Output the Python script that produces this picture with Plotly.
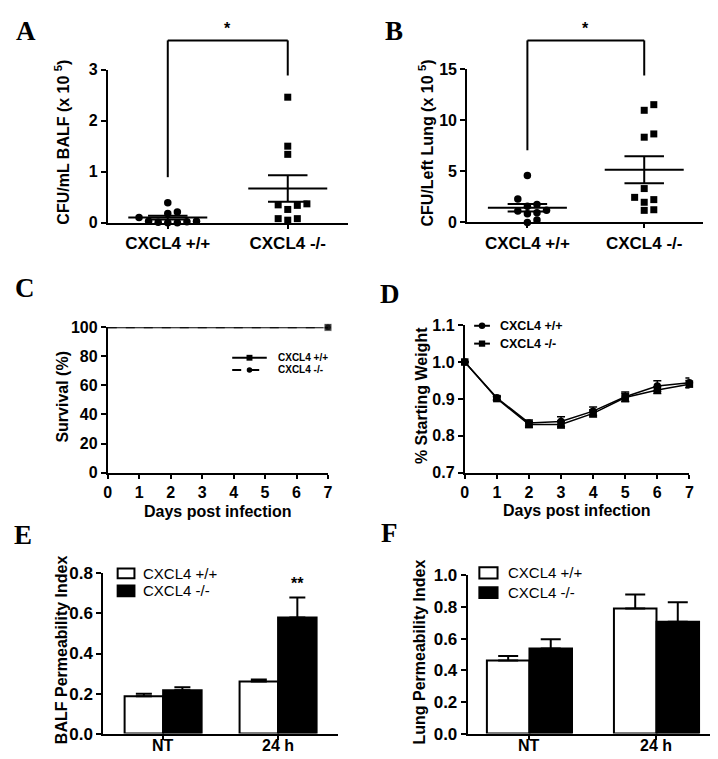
import plotly.graph_objects as go

W, H = 718, 759
SANS = "Liberation Sans, Arial, Helvetica, sans-serif"
SERIF = "Liberation Serif, Times New Roman, serif"

# ---------------- data ----------------
groups = ["CXCL4 +/+", "CXCL4 -/-"]

# A: CFU/mL BALF (x 10^5)
balf_wt = [0.10, 0.03, 0.00, 0.00, 0.39, 0.21, 0.02, 0.01, 0.03, 0.18]
balf_ko = [2.46, 1.50, 1.34, 0.37, 0.35, 0.26, 0.34, 0.08, 0.05, 0.08]
balf_mean = [0.10, 0.67]
balf_sem = [0.035, 0.26]

# B: CFU/Left Lung (x 10^5)
lung_wt = [4.58, 2.29, 1.59, 1.75, 1.18, 0.86, 0.95, 1.12, 0.00, 0.23]
lung_ko = [11.51, 10.96, 8.65, 8.33, 3.31, 2.23, 2.45, 1.97, 1.18, 1.24]
lung_mean = [1.43, 5.15]
lung_sem = [0.37, 1.32]

# C: survival
surv_days = [0, 7]
surv_wt = [100, 100]
surv_ko = [100, 100]

# D: weight
days = [0, 1, 2, 3, 4, 5, 6, 7]
weight_wt = [1.000, 0.903, 0.835, 0.839, 0.867, 0.906, 0.935, 0.944]
weight_wt_err = [0.0, 0.005, 0.008, 0.013, 0.011, 0.013, 0.014, 0.013]
weight_ko = [1.000, 0.901, 0.831, 0.831, 0.861, 0.904, 0.924, 0.940]
weight_ko_err = [0.0, 0.005, 0.008, 0.010, 0.010, 0.011, 0.009, 0.010]

# E / F: permeability
perm_groups = ["NT", "24 h"]
balf_perm_wt = [0.186, 0.260]
balf_perm_wt_err = [0.013, 0.010]
balf_perm_ko = [0.216, 0.580]
balf_perm_ko_err = [0.016, 0.100]
lung_perm_wt = [0.462, 0.790]
lung_perm_wt_err = [0.028, 0.089]
lung_perm_ko = [0.538, 0.707]
lung_perm_ko_err = [0.058, 0.123]

# ---------------- geometry (pixels) ----------------
P = {
    "A": dict(x0=97, x1=340, xr=[-0.5, 1.5], yb=211, yt=54, yr=[0, 3]),
    "B": dict(x0=461, x1=700, xr=[-0.515, 1.505], yb=210.7, yt=53.3, yr=[0, 15]),
    "C": dict(x0=97, x1=320, xr=[0, 7], yb=467.3, yt=318.3, yr=[0, 100]),
    "D": dict(x0=458.5, x1=686, xr=[0, 7], yb=467.5, yt=316, yr=[0.7, 1.1]),
    "E": dict(x0=92.5, x1=330, xr=[-0.52, 1.52], yb=735, yt=570.7, yr=[0, 0.8]),
    "F": dict(x0=461.5, x1=717, xr=[-0.486, 1.5], yb=735, yt=572.7, yr=[0, 1.0]),
}
ORDER = ["A", "B", "C", "D", "E", "F"]


def pxx(v):
    return v / W


def pyy(v):
    return 1 - v / H


def dx2px(k, v):
    g = P[k]
    return g["x0"] + (v - g["xr"][0]) / (g["xr"][1] - g["xr"][0]) * (g["x1"] - g["x0"])


def dy2px(k, v):
    g = P[k]
    return g["yb"] - (v - g["yr"][0]) / (g["yr"][1] - g["yr"][0]) * (g["yb"] - g["yt"])


def ppu_x(k):
    g = P[k]
    return (g["x1"] - g["x0"]) / (g["xr"][1] - g["xr"][0])


def swarm(k, values, center, step=9.7, thresh=7.5):
    ys = [dy2px(k, v) for v in values]
    order = sorted(range(len(values)), key=lambda i: values[i])
    placed = []
    offs = [0.0] * len(values)
    cands = [0]
    for j in range(1, 12):
        cands += [j, -j]
    for i in order:
        for c in cands:
            dx = c * step
            ok = True
            for (pdx, pyv) in placed:
                if abs(ys[i] - pyv) < thresh and abs(dx - pdx) < step * 0.95:
                    ok = False
                    break
            if ok:
                offs[i] = dx
                placed.append((dx, ys[i]))
                break
    return [center + o / ppu_x(k) for o in offs]


fig = go.Figure()

TICKFONT = dict(family=SANS, size=16, color="black", weight="bold")
axis_base = dict(showline=True, linecolor="black", linewidth=2, ticks="outside",
                 ticklen=5, tickwidth=2, tickcolor="black", showgrid=False,
                 zeroline=False, fixedrange=True, tickfont=TICKFONT)

layout_axes = {}
for idx, k in enumerate(ORDER):
    g = P[k]
    n = "" if idx == 0 else str(idx + 1)
    xa = dict(axis_base, domain=[pxx(g["x0"]), pxx(g["x1"])], range=g["xr"], anchor="y" + n)
    ya = dict(axis_base, domain=[pyy(g["yb"]), pyy(g["yt"])], range=g["yr"], anchor="x" + n)
    layout_axes["xaxis" + n] = xa
    layout_axes["yaxis" + n] = ya

# A/B categorical-style x axes
for n in ["", "2"]:
    layout_axes["xaxis" + n].update(tickvals=[0, 1], ticktext=groups, ticklen=4,
                                    tickfont=dict(family=SANS, size=17, color="black", weight="bold"))
layout_axes["yaxis"].update(tickvals=[0, 1, 2, 3])
layout_axes["yaxis2"].update(tickvals=[0, 5, 10, 15])
layout_axes["xaxis3"].update(tickvals=days, ticklen=4)
layout_axes["yaxis3"].update(tickvals=[0, 20, 40, 60, 80, 100])
layout_axes["xaxis4"].update(tickvals=days, ticklen=4)
layout_axes["yaxis4"].update(tickvals=[0.7, 0.8, 0.9, 1.0, 1.1], tickformat=".1f")
for n, vals in [("5", [0, 0.2, 0.4, 0.6, 0.8]), ("6", [0, 0.2, 0.4, 0.6, 0.8, 1.0])]:
    layout_axes["xaxis" + n].update(tickvals=[0, 1], ticklen=4, showticklabels=False)
    layout_axes["yaxis" + n].update(tickvals=vals, tickformat=".1f",
                                    tickfont=dict(family=SANS, size=17, color="black", weight="bold"))

# ---------------- A & B: scatter dot plots ----------------
for k, xa, ya, wt, ko, mean, sem in [("A", "x", "y", balf_wt, balf_ko, balf_mean, balf_sem),
                                     ("B", "x2", "y2", lung_wt, lung_ko, lung_mean, lung_sem)]:
    fig.add_trace(go.Scatter(x=swarm(k, wt, 0), y=wt, mode="markers", xaxis=xa, yaxis=ya,
                             marker=dict(symbol="circle", size=7.5, color="black"),
                             cliponaxis=False, showlegend=False))
    fig.add_trace(go.Scatter(x=swarm(k, ko, 1), y=ko, mode="markers", xaxis=xa, yaxis=ya,
                             marker=dict(symbol="square", size=7, color="black"),
                             cliponaxis=False, showlegend=False))
    hm = 40 / ppu_x(k)
    hs = 20 / ppu_x(k)
    lx, ly = [], []
    for c in range(2):
        m, s = mean[c], sem[c]
        lx += [c - hm, c + hm, None, c - hs, c + hs, None, c - hs, c + hs, None, c, c, None]
        ly += [m, m, None, m + s, m + s, None, m - s, m - s, None, m - s, m + s, None]
    fig.add_trace(go.Scatter(x=lx, y=ly, mode="lines", xaxis=xa, yaxis=ya,
                             line=dict(color="black", width=2), cliponaxis=False, showlegend=False))

# ---------------- C: survival ----------------
fig.add_trace(go.Scatter(x=surv_days, y=surv_ko, mode="lines+markers", xaxis="x3", yaxis="y3",
                         line=dict(color="black", width=2, dash="dash", shape="hv"),
                         marker=dict(symbol="circle", size=[0, 7], color="black"),
                         cliponaxis=False, showlegend=False))
fig.add_trace(go.Scatter(x=surv_days, y=surv_wt, mode="lines+markers", xaxis="x3", yaxis="y3",
                         line=dict(color="black", width=2, shape="hv"),
                         marker=dict(symbol="square", size=[0, 8], color="black"),
                         cliponaxis=False, showlegend=False))

# ---------------- D: weight ----------------
for yv, ev, sym in [(weight_wt, weight_wt_err, "circle"), (weight_ko, weight_ko_err, "square")]:
    fig.add_trace(go.Scatter(x=days, y=yv, mode="lines+markers", xaxis="x4", yaxis="y4",
                             line=dict(color="black", width=1.5),
                             marker=dict(symbol=sym, size=7.5, color="black"),
                             error_y=dict(type="data", array=ev, color="black", thickness=1.5, width=4),
                             cliponaxis=False, showlegend=False))

# ---------------- E & F: bars ----------------
for xa, ya, wt, wte, ko, koe, cw in [("x5", "y5", balf_perm_wt, balf_perm_wt_err, balf_perm_ko, balf_perm_ko_err, 8),
                                     ("x6", "y6", lung_perm_wt, lung_perm_wt_err, lung_perm_ko, lung_perm_ko_err, 10)]:
    fig.add_trace(go.Bar(x=[0, 1], y=wt, xaxis=xa, yaxis=ya, offsetgroup="wt",
                         marker=dict(color="white", line=dict(color="black", width=2)),
                         error_y=dict(type="data", array=wte, arrayminus=[0, 0], symmetric=False,
                                      color="black", thickness=2, width=cw),
                         showlegend=False))
    fig.add_trace(go.Bar(x=[0, 1], y=ko, xaxis=xa, yaxis=ya, offsetgroup="ko",
                         marker=dict(color="black", line=dict(color="black", width=2)),
                         error_y=dict(type="data", array=koe, arrayminus=[0, 0], symmetric=False,
                                      color="black", thickness=2, width=cw),
                         showlegend=False))

# ---------------- shapes & annotations ----------------
shapes = []
ann = []


def line_px(x0, y0, x1, y1, width=2, dash=None):
    d = dict(type="line", xref="paper", yref="paper", x0=pxx(x0), y0=pyy(y0), x1=pxx(x1), y1=pyy(y1),
             line=dict(color="black", width=width))
    if dash:
        d["line"]["dash"] = dash
    shapes.append(d)


def rect_px(x0, y0, x1, y1, fill, width=2):
    shapes.append(dict(type="rect", xref="paper", yref="paper", x0=pxx(x0), y0=pyy(y0), x1=pxx(x1), y1=pyy(y1),
                       line=dict(color="black", width=width), fillcolor=fill))


def circ_px(cx, cy, r):
    shapes.append(dict(type="circle", xref="paper", yref="paper", x0=pxx(cx - r), y0=pyy(cy - r),
                       x1=pxx(cx + r), y1=pyy(cy + r), line=dict(color="black", width=0), fillcolor="black"))


def text_px(x, y, s, size, bold=True, family=SANS, xanchor="center", angle=0):
    ann.append(dict(xref="paper", yref="paper", x=pxx(x), y=pyy(y), text=s, showarrow=False,
                    xanchor=xanchor, yanchor="middle", textangle=angle, borderpad=0,
                    font=dict(family=family, size=size, color="black", weight="bold" if bold else "normal")))


# significance brackets
for k, left_bottom, right_bottom, star_y in [("A", 164.3, 60, 12), ("B", 136.7, 60, 12)]:
    xl, xr = dx2px(k, 0), dx2px(k, 1)
    line_px(xl, left_bottom, xl, 24)
    line_px(xl, 24, xr, 24)
    line_px(xr, 24, xr, right_bottom)
    text_px((xl + xr) / 2, star_y, "*", 16)

# E significance
text_px(dx2px("E", 1) + 0.167 * ppu_x("E"), 581, "**", 16)

# E / F category labels
for k in ["E", "F"]:
    for i, lab in enumerate(perm_groups):
        text_px(dx2px(k, i), 747.5, lab, 16)

# panel letters
for s, x, y in [("A", 14, 14), ("B", 387, 14), ("C", 13, 278), ("D", 383, 284), ("E", 11, 531), ("F", 382, 529)]:
    text_px(x, y, s, 27, family=SERIF)

# axis titles
text_px(51, 128.5, "CFU/mL BALF (x 10 <sup>5</sup>)", 16, angle=-90)
text_px(419, 129, "CFU/Left Lung (x 10 <sup>5</sup>)", 16, angle=-90)
text_px(51, 389, "Survival (%)", 16, angle=-90)
text_px(414, 388, "% Starting Weight", 16, angle=-90)
text_px(50, 649, "BALF Permeability Index", 16, angle=-90)
text_px(413, 651, "Lung Permeability Index", 16, angle=-90)
text_px(208.5, 507, "Days post infection", 16)
text_px(572, 506, "Days post infection", 16)

# legend C
line_px(223, 349.5, 258, 349.5)
rect_px(237.5, 346.5, 243.5, 352.5, "black", width=0)
line_px(223, 362, 258, 362, dash="dash")
circ_px(240.5, 362, 2.8)
text_px(268, 349.5, "CXCL4 +/+", 10, xanchor="left")
text_px(268, 362, "CXCL4 -/-", 10, xanchor="left")

# legend D
line_px(468, 316.7, 484, 316.7, width=2)
circ_px(476, 316.7, 3.3)
line_px(468, 335, 484, 335, width=2)
rect_px(472.8, 331.8, 479.2, 338.2, "black", width=0)
text_px(493, 316.7, "CXCL4 +/+", 12.5, xanchor="left")
text_px(493, 335, "CXCL4 -/-", 12.5, xanchor="left")

# legend E
rect_px(107, 565.7, 124, 575.7, "white")
rect_px(107, 583, 124, 594, "black")
text_px(131.7, 570.7, "CXCL4 +/+", 15, bold=False, xanchor="left")
text_px(131.7, 588.5, "CXCL4 -/-", 15, bold=False, xanchor="left")

# legend F
rect_px(473.3, 564.5, 491.7, 576, "white")
rect_px(473.3, 585, 491.7, 596, "black")
text_px(501.7, 570, "CXCL4 +/+", 15, bold=False, xanchor="left")
text_px(501.7, 590, "CXCL4 -/-", 15, bold=False, xanchor="left")

fig.update_layout(width=W, height=H, margin=dict(l=0, r=0, t=0, b=0),
                  paper_bgcolor="white", plot_bgcolor="white", showlegend=False,
                  barmode="group", bargap=0.33, bargroupgap=0,
                  shapes=shapes, annotations=ann, font=dict(family=SANS, color="black"),
                  **layout_axes)

fig.write_html("out.html")
